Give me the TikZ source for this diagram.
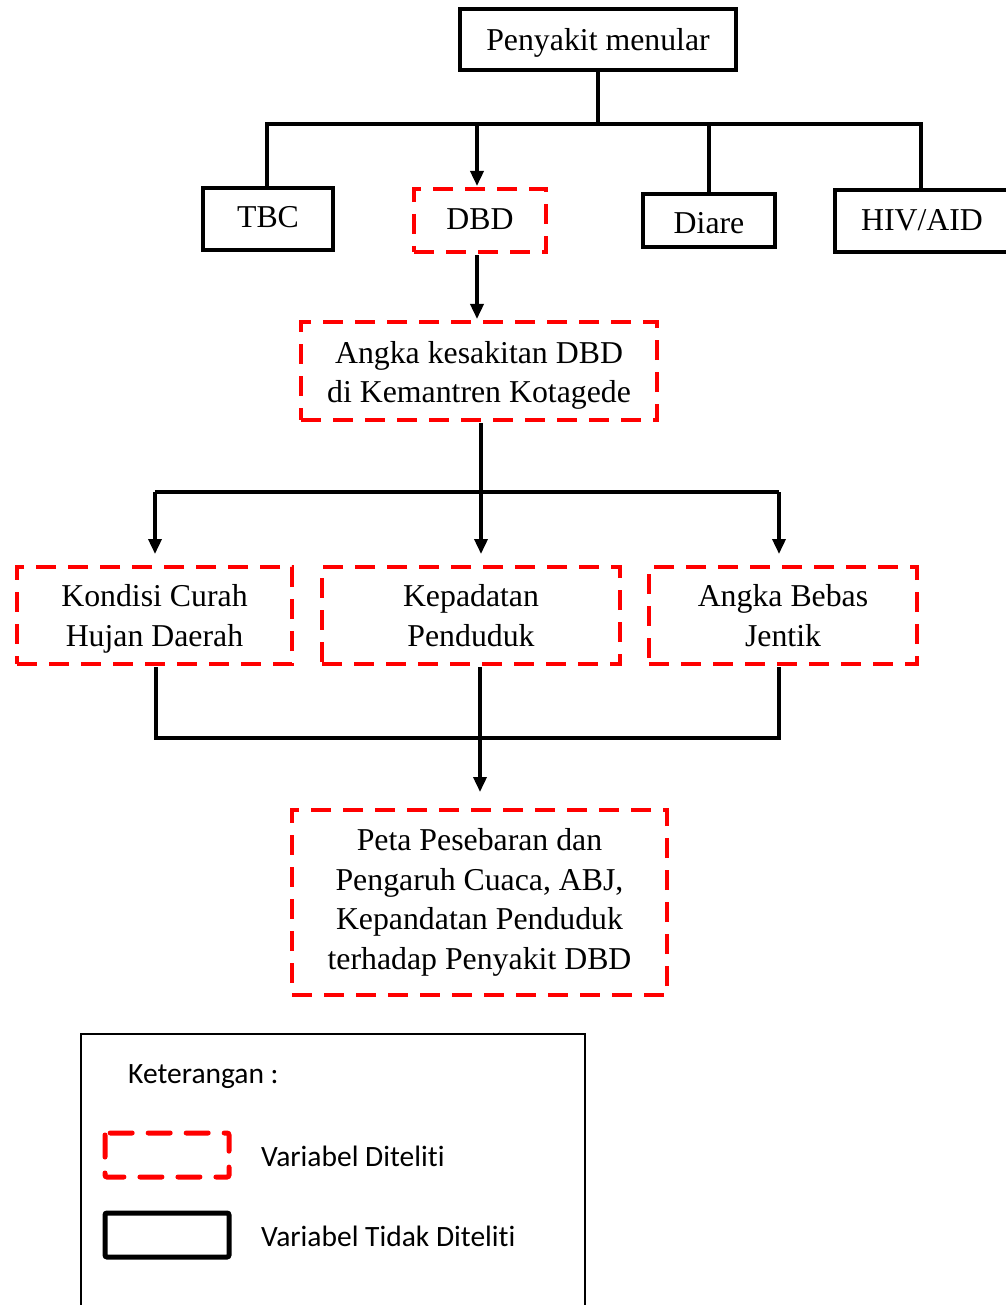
\documentclass[tikz,border=0pt]{standalone}
\usepackage{fontspec}
\setmainfont{Liberation Serif}
\newfontfamily\legfont[Ligatures={NoCommon}]{Carlito}
\usetikzlibrary{arrows.meta}
\newcommand{\tup}[1]{\rule{0pt}{#1pt}}
\begin{document}
\begin{tikzpicture}[x=1pt,y=-1pt,
  basebox/.style={inner sep=0pt, align=center, line width=4.5pt,
    font=\fontsize{31.8}{39.5}\selectfont,
    execute at end node={\rule[-11.85pt]{0pt}{0pt}}},
  txttop/.style={execute at begin node={\rule{0pt}{#1pt}}},
  solidbox/.style={basebox, draw=black},
  dashbox/.style={basebox, draw=red, dash pattern=on 20pt off 12pt},
  conn/.style={draw=black, line width=3.5pt},
  arr/.style={conn, -{Triangle[length=15pt,width=13pt]}},
  legtext/.style={anchor=west, inner sep=0pt, font=\legfont\fontsize{29.5}{34}\selectfont}]
\useasboundingbox (0,0) rectangle (1005,1305);
% top level
\node[solidbox, txttop=33.6, minimum width=276pt, minimum height=61pt] (pen) at (598,39.5) {Penyakit menular};
\node[solidbox, txttop=29.6, minimum width=130pt, minimum height=62pt] (tbc) at (268,219) {TBC};
\node[dashbox, txttop=29.6, minimum width=132pt, minimum height=63pt] (dbd) at (480,220.5) {DBD};
\node[solidbox, txttop=37.6, minimum width=132pt, minimum height=53pt] (diare) at (709,220.5) {Diare};
\node[solidbox, txttop=31.6, minimum width=174pt, minimum height=62pt] (hiv) at (922,221) {HIV/AID};
% second level
\node[dashbox, minimum width=356pt, minimum height=98pt] (ang) at (479,371) {\tup{36}Angka kesakitan DBD\\di Kemantren Kotagede};
% third level
\node[dashbox, minimum width=275pt, minimum height=97pt] (kon) at (154.5,615.5) {\tup{34}Kondisi Curah\\Hujan Daerah};
\node[dashbox, minimum width=298pt, minimum height=97pt] (kep) at (471,615.5) {\tup{34}Kepadatan\\Penduduk};
\node[dashbox, minimum width=268pt, minimum height=97pt] (abj) at (783,615.5) {\tup{34}Angka Bebas\\Jentik};
% result
\node[dashbox, minimum width=375pt, minimum height=185pt] (peta) at (479.5,902.5) {\tup{27}Peta Pesebaran dan\\Pengaruh Cuaca, ABJ,\\Kepandatan Penduduk\\terhadap Penyakit DBD};
% junction coordinates
\coordinate (j1) at (598,124);
\coordinate (j1a) at (267,124);
\coordinate (j1b) at (477,124);
\coordinate (j1c) at (709,124);
\coordinate (j1d) at (921,124);
\coordinate (tDBD) at (477,186);
\coordinate (sDBD) at (477,255);
\coordinate (tAng) at (477,319);
\coordinate (sAng) at (481,423);
\coordinate (j2) at (481,492);
\coordinate (j2a) at (155,492);
\coordinate (j2c) at (779,492);
\coordinate (tKon) at (155,554);
\coordinate (tKep) at (481,554);
\coordinate (tAbj) at (779,554);
\coordinate (sKon) at (156,667);
\coordinate (sKep) at (480,667);
\coordinate (sAbj) at (779,667);
\coordinate (j3a) at (156,738);
\coordinate (j3) at (480,738);
\coordinate (j3c) at (779,738);
\coordinate (tPeta) at (480,792);
% connectors
\draw[conn] (pen.south) -- (j1);
\draw[conn] (tbc.north -| j1a) -- (j1a) -- (j1d) -- (hiv.north -| j1d);
\draw[conn] (j1c) -- (diare.north -| j1c);
\draw[arr] (j1b) -- (tDBD);
\draw[arr] (sDBD) -- (tAng);
\draw[conn] (sAng) -- (j2);
\draw[conn] (j2a) -- (j2c);
\draw[arr] (j2a) -- (tKon);
\draw[arr] (j2) -- (tKep);
\draw[arr] (j2c) -- (tAbj);
\draw[conn] (sKon) -- (j3a) -- (j3c) -- (sAbj);
\draw[conn] (sKep) -- (j3);
\draw[arr] (j3) -- (tPeta);
% legend
\draw[line width=2.2pt] (81,1312) -- (81,1034) -- (585,1034) -- (585,1312);
\node[legtext] (ket) at (128,1077) {Keterangan :};
\draw[draw=red, line width=5pt, rounded corners=2pt, dash pattern=on 22pt off 16pt, line cap=round]
  (105,1133) rectangle (229,1177);
\node[legtext] (vd) at (261,1156) {Variabel Diteliti};
\draw[draw=black, line width=5pt, rounded corners=2pt] (105,1213) rectangle (229,1257);
\node[legtext] (vtd) at (261,1236) {Variabel Tidak Diteliti};
\end{tikzpicture}
\end{document}
